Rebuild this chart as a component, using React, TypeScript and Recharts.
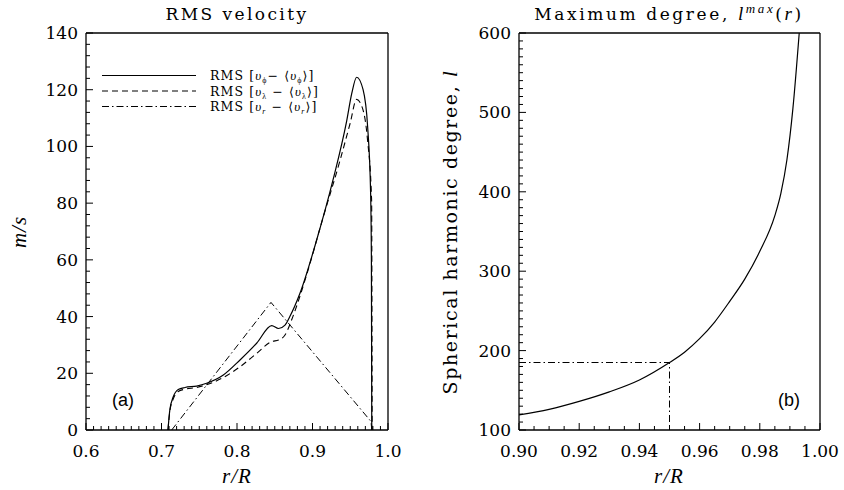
import React from 'react'
import { LineChart, Line, XAxis, YAxis, Legend } from 'recharts'

// (a) RMS velocity, m/s against r/R
const phiR = [0.7086, 0.711, 0.7156, 0.7222, 0.7311, 0.7466, 0.7598, 0.7819, 0.804, 0.826, 0.846, 0.855, 0.8636, 0.87, 0.8834, 0.9055, 0.927, 0.9453, 0.952, 0.9585, 0.967, 0.973, 0.977, 0.978, 0.9785]
const phiV = [0, 7, 11.7, 14.3, 15, 15.5, 16.5, 19.4, 24.7, 30.6, 36.8, 35.8, 37, 40, 48.2, 67, 88, 109, 118.7, 124.4, 120, 107, 83.4, 60, 0]

const lamR = [0.7086, 0.711, 0.7156, 0.7222, 0.7311, 0.7466, 0.7598, 0.7819, 0.804, 0.826, 0.846, 0.855, 0.8636, 0.874, 0.8914, 0.913, 0.9364, 0.9497, 0.9585, 0.967, 0.973, 0.9783, 0.979]
const lamV = [0, 6.5, 11, 13.6, 14.4, 15, 16, 18.5, 22.3, 27, 31.2, 31.7, 33.5, 40, 54, 74, 95, 108, 116.6, 112.8, 102, 81, 0]

const radR = [0.7135, 0.845, 0.9775, 0.9785]
const radV = [0, 45, 3, 0]

// (b) maximum spherical harmonic degree
const degR = [0.9, 0.91, 0.92, 0.93, 0.94, 0.95, 0.955, 0.96, 0.965, 0.97, 0.975, 0.98, 0.985, 0.987, 0.989, 0.991, 0.9931]
const degL = [119, 126, 136, 148, 163, 185, 198, 215, 236, 262, 290, 325, 370, 398, 440, 505, 600]

const cutR = [0.9, 0.95, 0.95]
const cutL = [185, 185, 100]

// ticks
const xMajorA = [0.6, 0.7, 0.8, 0.9, 1.0]
const yMajorA = [0, 20, 40, 60, 80, 100, 120, 140]
const xMajorB = [0.9, 0.92, 0.94, 0.96, 0.98, 1.0]
const yMajorB = [100, 200, 300, 400, 500, 600]

const steps = (a: number, b: number, s: number) => {
  const out: number[] = []
  const n = Math.round((b - a) / s)
  for (let i = 0; i <= n; i++) out.push(Math.round((a + i * s) * 1e6) / 1e6)
  return out
}

const zip = (r: number[], v: number[]) => r.map((x, i) => ({ r: x, v: v[i] }))

const FONT = 'DejaVu Serif'
const ITAL = 'Liberation Serif'
const DASH = '6 4'
const DASHDOT = '7 3 1.5 3'

const TickMark = (props: any) => {
  const { x, y, payload, side, majors, fmt } = props
  const v = payload.value
  const major = majors.some((m: number) => Math.abs(m - v) < 1e-6)
  const len = major ? 7 : 4
  let line
  let label = null
  if (side === 'bottom') {
    line = <line x1={x} y1={y} x2={x} y2={y - len} stroke="#000" strokeWidth={1} />
    if (major)
      label = (
        <text x={x} y={y + 27} textAnchor="middle" fontFamily={FONT} fontSize={17} fill="#000">
          {fmt(v)}
        </text>
      )
  } else if (side === 'top') {
    line = <line x1={x} y1={y} x2={x} y2={y + len} stroke="#000" strokeWidth={1} />
  } else if (side === 'left') {
    line = <line x1={x} y1={y} x2={x + len} y2={y} stroke="#000" strokeWidth={1} />
    if (major)
      label = (
        <text x={x - 8} y={y + 6} textAnchor="end" fontFamily={FONT} fontSize={17} fill="#000">
          {fmt(v)}
        </text>
      )
  } else {
    line = <line x1={x} y1={y} x2={x - len} y2={y} stroke="#000" strokeWidth={1} />
  }
  return (
    <g>
      {line}
      {label}
    </g>
  )
}

const legendRows = [
  { sub: 'ϕ', dash: undefined, gap: '' },
  { sub: 'λ', dash: DASH, gap: ' ' },
  { sub: 'r', dash: DASHDOT, gap: ' ' },
]

const LegendBox = () => (
  <svg width={240} height={50} style={{ overflow: 'visible' }}>
    {legendRows.map((row, i) => {
      const y = 9.5 + i * 15.5
      return (
        <g key={i}>
          <line x1={2} y1={y} x2={96} y2={y} stroke="#000" strokeWidth={1.1} strokeDasharray={row.dash} />
          <text x={110} y={y + 4.5} fontFamily={FONT} fontSize={12.5} letterSpacing={1.1} fill="#000">
            RMS{' '}
            <tspan>[</tspan>
            <tspan fontFamily={ITAL} fontStyle="italic" fontSize={13}>υ</tspan>
            <tspan fontSize={8} dy={3} fontFamily={ITAL} fontStyle={row.sub === 'r' ? 'italic' : 'normal'}>{row.sub}</tspan>
            <tspan dy={-3}>{row.gap}− ⟨</tspan>
            <tspan fontFamily={ITAL} fontStyle="italic" fontSize={13}>υ</tspan>
            <tspan fontSize={8} dy={3} fontFamily={ITAL} fontStyle={row.sub === 'r' ? 'italic' : 'normal'}>{row.sub}</tspan>
            <tspan dy={-3}>⟩</tspan>
            <tspan>]</tspan>
          </text>
        </g>
      )
    })}
  </svg>
)

const axisStroke = { stroke: '#000', strokeWidth: 1.3 }

const App = () => {
  const xMinorA = steps(0.6, 1.0, 0.01)
  const yMinorA = steps(0, 140, 4)
  const xMinorB = steps(0.9, 1.0, 0.005)
  const yMinorB = steps(100, 600, 10)
  const fmt1 = (v: number) => v.toFixed(1)
  const fmt2 = (v: number) => v.toFixed(2)
  const fmt0 = (v: number) => String(v)

  return (
    <div style={{ position: 'absolute', left: 0, top: 0, width: 844, height: 490, background: '#fff' }}>
      <div style={{ position: 'absolute', left: 0, top: 0 }}>
        <LineChart width={422} height={490} margin={{ top: 32, right: 33, bottom: 59, left: 85 }}>
          <XAxis dataKey="r" type="number" domain={[0.6, 1.0]} ticks={xMinorA} interval={0} allowDataOverflow
            height={1} tickSize={0} tickMargin={0} tickLine={false} axisLine={axisStroke}
            tick={<TickMark side="bottom" majors={xMajorA} fmt={fmt1} />} />
          <XAxis xAxisId="top" orientation="top" type="number" domain={[0.6, 1.0]} ticks={xMinorA} interval={0}
            height={1} tickSize={0} tickMargin={0} tickLine={false} axisLine={axisStroke}
            tick={<TickMark side="top" majors={xMajorA} fmt={fmt1} />} />
          <YAxis type="number" domain={[0, 140]} ticks={yMinorA} interval={0} allowDataOverflow
            width={1} tickSize={0} tickMargin={0} tickLine={false} axisLine={axisStroke}
            tick={<TickMark side="left" majors={yMajorA} fmt={fmt0} />} />
          <YAxis yAxisId="right" orientation="right" type="number" domain={[0, 140]} ticks={yMinorA} interval={0}
            width={1} tickSize={0} tickMargin={0} tickLine={false} axisLine={axisStroke}
            tick={<TickMark side="right" majors={yMajorA} fmt={fmt0} />} />
          <Legend layout="vertical" align="center" verticalAlign="middle" content={<LegendBox />}
            wrapperStyle={{ left: 100, top: 66, width: 240, height: 50 }} />
          <Line data={zip(radR, radV)} dataKey="v" type="linear" stroke="#000" strokeWidth={1}
            strokeDasharray={DASHDOT} dot={false} isAnimationActive={false} legendType="none" />
          <Line data={zip(lamR, lamV)} dataKey="v" type="monotone" stroke="#000" strokeWidth={1.1}
            strokeDasharray={DASH} dot={false} isAnimationActive={false} legendType="none" />
          <Line data={zip(phiR, phiV)} dataKey="v" type="monotone" stroke="#000" strokeWidth={1.2}
            dot={false} isAnimationActive={false} legendType="none" />
        </LineChart>
      </div>
      <div style={{ position: 'absolute', left: 422, top: 0 }}>
        <LineChart width={422} height={490} margin={{ top: 32, right: 23, bottom: 59, left: 96 }}>
          <XAxis dataKey="r" type="number" domain={[0.9, 1.0]} ticks={xMinorB} interval={0} allowDataOverflow
            height={1} tickSize={0} tickMargin={0} tickLine={false} axisLine={axisStroke}
            tick={<TickMark side="bottom" majors={xMajorB} fmt={fmt2} />} />
          <XAxis xAxisId="top" orientation="top" type="number" domain={[0.9, 1.0]} ticks={xMinorB} interval={0}
            height={1} tickSize={0} tickMargin={0} tickLine={false} axisLine={axisStroke}
            tick={<TickMark side="top" majors={xMajorB} fmt={fmt2} />} />
          <YAxis type="number" domain={[100, 600]} ticks={yMinorB} interval={0} allowDataOverflow
            width={1} tickSize={0} tickMargin={0} tickLine={false} axisLine={axisStroke}
            tick={<TickMark side="left" majors={yMajorB} fmt={fmt0} />} />
          <YAxis yAxisId="right" orientation="right" type="number" domain={[100, 600]} ticks={yMinorB} interval={0}
            width={1} tickSize={0} tickMargin={0} tickLine={false} axisLine={axisStroke}
            tick={<TickMark side="right" majors={yMajorB} fmt={fmt0} />} />
          <Line data={zip(cutR, cutL)} dataKey="v" type="linear" stroke="#000" strokeWidth={1}
            strokeDasharray={DASHDOT} dot={false} isAnimationActive={false} />
          <Line data={zip(degR, degL)} dataKey="v" type="monotone" stroke="#000" strokeWidth={1.2}
            dot={false} isAnimationActive={false} />
        </LineChart>
      </div>
      <svg width={844} height={490} style={{ position: 'absolute', left: 0, top: 0, pointerEvents: 'none' }}>
        <g fontFamily={FONT} fill="#000">
          <text x={237} y={20} textAnchor="middle" fontSize={17} letterSpacing={2.4}>RMS velocity</text>
          <text x={669} y={20} textAnchor="middle" fontSize={17} letterSpacing={2.6}>
            Maximum degree, <tspan fontFamily={ITAL} fontStyle="italic" fontSize={19}>l</tspan>
            <tspan fontFamily={ITAL} fontStyle="italic" fontSize={13} dy={-7}>max</tspan>
            <tspan dy={7}>(</tspan>
            <tspan fontFamily={ITAL} fontStyle="italic" fontSize={19}>r</tspan>)
          </text>
        </g>
        <g fontFamily={ITAL} fontStyle="italic" fill="#000" fontSize={21}>
          <text x={237} y={483} textAnchor="middle" letterSpacing={1}>r/R</text>
          <text x={669} y={483} textAnchor="middle" letterSpacing={1}>r/R</text>
          <text transform="translate(26 232) rotate(-90)" textAnchor="middle" letterSpacing={1}>m/s</text>
        </g>
        <text transform="translate(457 232) rotate(-90)" textAnchor="middle" fontFamily={FONT} fontSize={19}
          letterSpacing={1.6} fill="#000">
          Spherical harmonic degree, <tspan fontFamily={ITAL} fontStyle="italic" fontSize={21}>l</tspan>
        </text>
        <g fontFamily="Liberation Sans" fontSize={18} fill="#000">
          <text x={112} y={406}>(a)</text>
          <text x={778} y={406}>(b)</text>
        </g>
      </svg>
    </div>
  )
}

export default App
